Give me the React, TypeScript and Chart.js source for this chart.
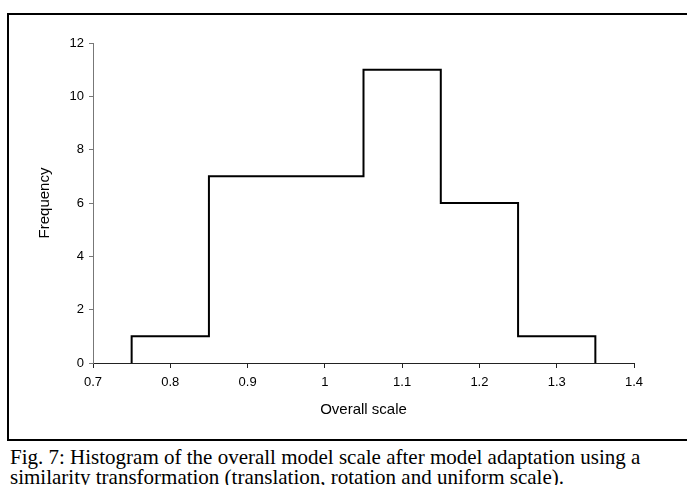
import React, { useEffect, useRef } from "react";
import { Chart, registerables } from "chart.js";

Chart.register(...registerables);

const binEdges = [0.75, 0.85, 0.95, 1.05, 1.15, 1.25, 1.35];
const frequencies = [1, 7, 7, 11, 6, 1];
const xTickMin = 0.7;
const xTickMax = 1.4;
const xTickStep = 0.1;
const yTickMin = 0;
const yTickMax = 12;
const yTickStep = 2;
const xTitle = "Overall scale";
const yTitle = "Frequency";
const captionLines = [
  "Fig. 7: Histogram of the overall model scale after model adaptation using a",
  "similarity transformation (translation, rotation and uniform scale).",
];

function stepPoints() {
  const pts: { x: number; y: number }[] = [];
  pts.push({ x: binEdges[0], y: 0 });
  for (let i = 0; i < frequencies.length; i++) {
    pts.push({ x: binEdges[i], y: frequencies[i] });
    pts.push({ x: binEdges[i + 1], y: frequencies[i] });
  }
  pts.push({ x: binEdges[binEdges.length - 1], y: 0 });
  return pts;
}

export default function App() {
  const ref = useRef<HTMLCanvasElement | null>(null);
  useEffect(() => {
    if (!ref.current) return;
    const font = "'Liberation Sans', Arial, sans-serif";
    const chart = new Chart(ref.current, {
      type: "line",
      data: {
        datasets: [
          {
            data: stepPoints(),
            borderColor: "#000",
            borderWidth: 2,
            pointRadius: 0,
            tension: 0,
            fill: false,
          },
        ],
      },
      options: {
        animation: false,
        responsive: false,
        devicePixelRatio: 1,
        layout: { padding: { left: 0, top: 43, right: 53, bottom: 0 } },
        plugins: { legend: { display: false }, tooltip: { enabled: false } },
        scales: {
          x: {
            type: "linear",
            min: xTickMin,
            max: xTickMax,
            afterFit: (s: any) => {
              s.height = 77;
            },
            ticks: {
              stepSize: xTickStep,
              color: "#000",
              padding: 7,
              font: { family: font, size: 13 },
              callback: (v: any) => String(Number(Number(v).toFixed(1))),
            },
            grid: {
              drawOnChartArea: false,
              drawTicks: true,
              tickLength: 5,
              tickColor: "#222",
            },
            border: { color: "#222", width: 1 },
            title: {
              display: true,
              text: xTitle,
              color: "#000",
              font: { family: font, size: 15 },
              padding: { top: 4, bottom: 21 },
            },
          },
          y: {
            min: yTickMin,
            max: yTickMax,
            afterFit: (s: any) => {
              s.width = 93;
            },
            ticks: {
              stepSize: yTickStep,
              color: "#000",
              padding: 5,
              font: { family: font, size: 13 },
            },
            grid: {
              drawOnChartArea: false,
              drawTicks: true,
              tickLength: 4,
              tickColor: "#777",
            },
            border: { color: "#777", width: 1 },
            title: {
              display: true,
              text: yTitle,
              color: "#000",
              font: { family: font, size: 15 },
              padding: { top: 36, bottom: 0 },
            },
          },
        },
      },
    } as any);
    return () => chart.destroy();
  }, []);

  return (
    <div
      style={{
        position: "absolute",
        left: 0,
        top: 0,
        width: 687,
        height: 485,
        overflow: "hidden",
        background: "#fff",
      }}
    >
      <div
        style={{
          position: "absolute",
          left: 7,
          top: 13,
          width: 700,
          height: 428,
          borderTop: "2px solid #000",
          borderLeft: "2px solid #000",
          borderBottom: "2px solid #000",
          boxSizing: "border-box",
        }}
      />
      <canvas
        ref={ref}
        width={687}
        height={440}
        style={{ position: "absolute", left: 0, top: 0, width: 687, height: 440 }}
      />
      <div
        style={{
          position: "absolute",
          left: 10,
          top: 447,
          fontFamily: "'Liberation Serif', 'Times New Roman', serif",
          fontSize: 21,
          lineHeight: "20px",
          color: "#000",
          whiteSpace: "nowrap",
        }}
      >
        {captionLines.map((l, i) => (
          <div key={i}>{l}</div>
        ))}
      </div>
    </div>
  );
}
